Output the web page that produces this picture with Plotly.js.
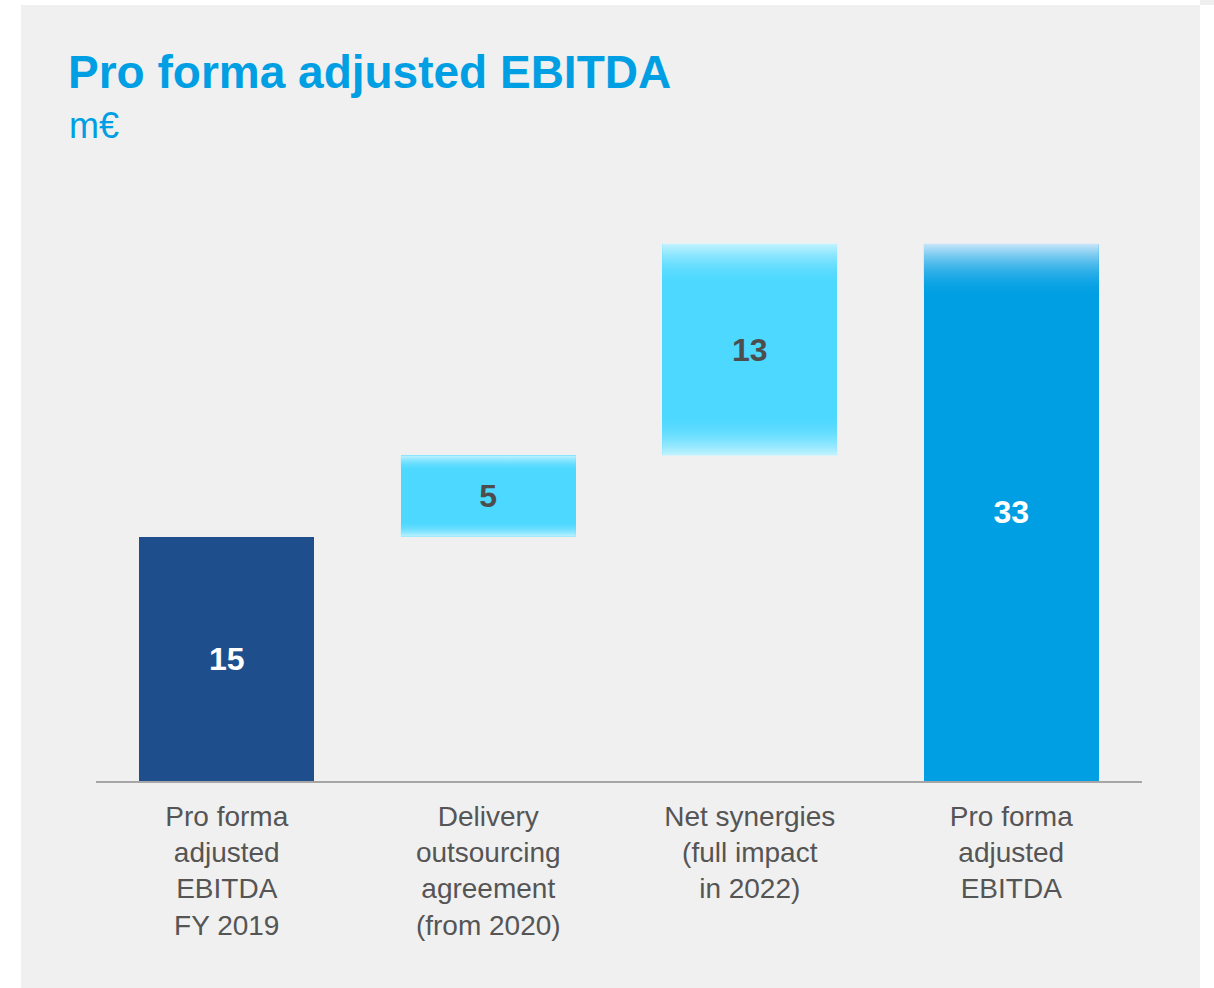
<!DOCTYPE html>
<html>
<head>
<meta charset="utf-8">
<script src="https://cdn.plot.ly/plotly-3.0.1.min.js"></script>
<style>
  html, body { margin: 0; padding: 0; background: #ffffff; width: 1214px; height: 988px; overflow: hidden; }
  #chart { position: absolute; left: 21px; top: 5px; width: 1179px; height: 983px; }
  #corner { position: absolute; left: 1200px; top: 0px; width: 14px; height: 5px; background: #efefef; }
</style>
</head>
<body>
<div id="corner"></div>
<div id="chart"></div>
<script>
// ---- data ----
const categories = ['cat1', 'cat2', 'cat3', 'cat4'];
const tickLabels = [
  'Pro forma<br>adjusted<br>EBITDA<br>FY 2019',
  'Delivery<br>outsourcing<br>agreement<br>(from 2020)',
  'Net synergies<br>(full impact<br>in 2022)',
  'Pro forma<br>adjusted<br>EBITDA'
];
const values = [15, 5, 13, 33];
const measures = ['absolute', 'relative', 'relative', 'total'];
const valueLabels = ['15', '5', '13', '33'];

// ---- styles ----
const barColors = ['#1f4e8d', '#4cd8ff', '#4cd8ff', '#009fe3'];
const labelColors = ['#ffffff', '#4d4d4d', '#4d4d4d', '#ffffff'];
const FONT = 'Arial, "Liberation Sans", Helvetica, sans-serif';

// waterfall bases computed from values
const bases = [];
let running = 0;
values.forEach((v, i) => {
  if (measures[i] === 'relative') { bases.push(running); running += v; }
  else { bases.push(0); running = v; }
});

const BAR_W = 0.67;
const traces = [{
  type: 'bar',
  x: categories,
  y: values,
  base: bases,
  width: BAR_W,
  marker: { color: barColors, line: { width: 0 } },
  text: valueLabels,
  textposition: 'inside',
  insidetextanchor: 'middle',
  textangle: 0,
  constraintext: 'none',
  textfont: { family: FONT, size: 32, weight: 700, color: labelColors },
  hoverinfo: 'skip',
  showlegend: false
}];

// gradient overlays (fade at the ends of the light bars)
const fades = {
  1: [[0, 'rgba(196,243,255,1)'], [0.2, 'rgba(76,216,255,0)'], [0.8, 'rgba(76,216,255,0)'], [1, 'rgba(196,243,255,1)']],
  2: [[0, 'rgba(196,243,255,1)'], [0.2, 'rgba(76,216,255,0)'], [0.8, 'rgba(76,216,255,0)'], [1, 'rgba(196,243,255,1)']],
  3: [[0, 'rgba(0,159,227,0)'], [0.9, 'rgba(0,159,227,0)'], [1, 'rgba(200,230,249,1)']]
};
Object.keys(fades).forEach(k => {
  const i = +k;
  const lo = bases[i], hi = bases[i] + values[i];
  const x0 = i - BAR_W / 2, x1 = i + BAR_W / 2;
  traces.push({
    type: 'scatter',
    mode: 'lines',
    x: [x0, x1, x1, x0, x0],
    y: [lo, lo, hi, hi, lo],
    xaxis: 'x2',
    fill: 'toself',
    line: { width: 0, color: 'rgba(0,0,0,0)' },
    fillcolor: 'rgba(0,0,0,0)',
    fillgradient: { type: 'vertical', start: lo, stop: hi, colorscale: fades[k] },
    hoverinfo: 'skip',
    showlegend: false
  });
});

const layout = {
  width: 1179,
  height: 983,
  paper_bgcolor: '#f0f0f0',
  plot_bgcolor: '#f0f0f0',
  margin: { l: 75, r: 58, t: 190, b: 207, pad: 0 },
  font: { family: FONT },
  title: {
    text: 'Pro forma adjusted EBITDA',
    font: { family: FONT, size: 46, weight: 700, color: '#009fe3' },
    xref: 'container', x: 47 / 1179, xanchor: 'left',
    yref: 'container', y: 1 - 67 / 983, yanchor: 'middle'
  },
  annotations: [{
    text: 'm€',
    xref: 'paper', yref: 'paper',
    x: (67 - 96) / 1046, xanchor: 'left',
    y: (781 - 126) / 586, yanchor: 'middle',
    showarrow: false,
    font: { family: FONT, size: 36, color: '#009fe3' }
  }],
  xaxis: {
    type: 'category',
    range: [-0.5, 3.5],
    tickmode: 'array',
    tickvals: categories,
    ticktext: tickLabels,
    tickfont: { family: FONT, size: 28, color: '#555555' },
    ticklabelstandoff: 9,
    ticks: '',
    showline: true,
    linecolor: '#a6a6a6',
    linewidth: 2,
    showgrid: false,
    zeroline: false,
    fixedrange: true
  },
  xaxis2: {
    overlaying: 'x',
    range: [-0.5, 3.5],
    visible: false,
    fixedrange: true
  },
  yaxis: {
    range: [0, 36],
    visible: false,
    showgrid: false,
    zeroline: false,
    fixedrange: true
  },
  bargap: 0
};

Plotly.newPlot('chart', traces, layout, { displayModeBar: false, staticPlot: true });
</script>
</body>
</html>
